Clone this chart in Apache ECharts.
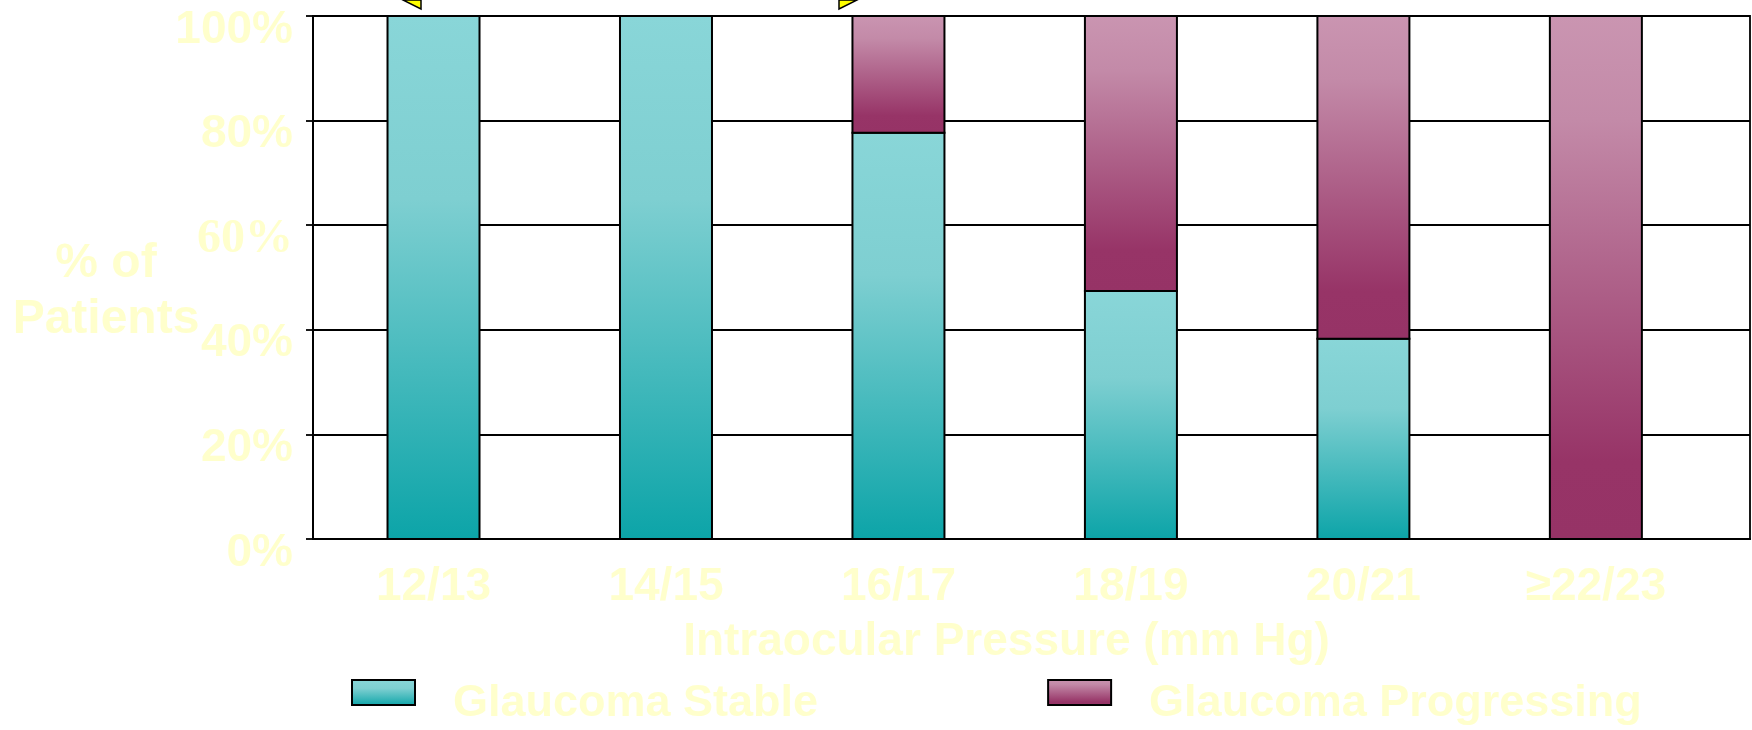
<!DOCTYPE html>
<html>
<head>
<meta charset="utf-8">
<title>Glaucoma progression by intraocular pressure</title>
<script src="https://cdn.jsdelivr.net/npm/echarts@6/dist/echarts.min.js"></script>
<style>
  html, body { margin: 0; padding: 0; background: #ffffff; }
  #chart { width: 1752px; height: 730px; }
</style>
</head>
<body>
<div id="chart"></div>
<script>
// Intraocular pressure groups (mm Hg) and their positions along the x axis
const categories = ['12/13', '14/15', '16/17', '18/19', '20/21', '\u226522/23'];
const positions = [1, 2, 3, 4, 5, 6];

// Share of patients (%) in each pressure group
const stable = [100, 100, 77.7, 47.4, 38.3, 0];
const progressing = [0, 0, 22.3, 52.6, 61.7, 100];

// Y axis tick labels
const yTickValues = [0, 20, 40, 60, 80, 100];
const yTickLabels = ['0%', '20%', '40%', '60%', '80%', '100%'];

const seriesNames = ['Glaucoma Stable', 'Glaucoma Progressing'];

const FONT = '"Liberation Sans", Arial, Helvetica, sans-serif';
const TEXT_COLOR = '#ffffcc';
const BAR_WIDTH = 92;

const tealStops = [
  { offset: 0, color: '#89d6d8' },
  { offset: 0.35, color: '#7ecfd1' },
  { offset: 1, color: '#0ca4a8' }
];
const plumStops = [
  { offset: 0, color: '#ca95b1' },
  { offset: 0.2, color: '#c38aa8' },
  { offset: 0.85, color: '#973467' },
  { offset: 1, color: '#963366' }
];
const gradient = (stops) => new echarts.graphic.LinearGradient(0, 0, 0, 1, stops);

// Each segment is [x position, lower edge, upper edge], stacked stable -> progressing
const stableSegments = stable.map((v, i) => [positions[i], 0, v]);
const progressingSegments = progressing.map((v, i) => [positions[i], stable[i], stable[i] + v]);

function segmentRenderer(stops) {
  return function (params, api) {
    const x = api.value(0);
    const lo = api.value(1);
    const hi = api.value(2);
    if (hi <= lo) return null;
    const pLo = api.coord([x, lo]);
    const pHi = api.coord([x, hi]);
    return {
      type: 'rect',
      shape: {
        x: pLo[0] - BAR_WIDTH / 2,
        y: pHi[1],
        width: BAR_WIDTH,
        height: pLo[1] - pHi[1]
      },
      style: {
        fill: gradient(stops),
        stroke: '#000000',
        lineWidth: 2
      }
    };
  };
}

const chart = echarts.init(document.getElementById('chart'), null, { renderer: 'canvas' });

chart.setOption({
  backgroundColor: '#ffffff',
  animation: false,
  textStyle: { fontFamily: FONT },
  grid: {
    left: 313, right: 2, top: 16, bottom: 191,
    show: true, borderColor: '#000000', borderWidth: 1.8,
    containLabel: false,
    outerBoundsMode: 'none'
  },
  xAxis: {
    type: 'value',
    min: 0.4816,
    max: 6.663,
    splitLine: { show: false },
    axisTick: { show: false },
    axisLine: { show: true, onZero: false, lineStyle: { color: '#000000', width: 2 } },
    axisLabel: {
      customValues: positions,
      formatter: (v) => categories[positions.indexOf(v)] || '',
      color: TEXT_COLOR, fontSize: 46, fontWeight: 'bold', fontFamily: FONT,
      margin: 25
    },
    name: 'Intraocular Pressure (mm Hg)',
    nameLocation: 'middle',
    nameGap: 80,
    nameTextStyle: {
      color: TEXT_COLOR, fontSize: 46, fontWeight: 'bold', fontFamily: FONT,
      padding: [0, 50, 0, 0]
    }
  },
  yAxis: {
    type: 'value',
    min: 0, max: 100, interval: 20,
    axisLine: { show: true, lineStyle: { color: '#000000', width: 2 } },
    axisTick: { show: true, length: 7, lineStyle: { color: '#000000', width: 1.8 } },
    splitLine: { show: true, lineStyle: { color: '#000000', width: 1.8 } },
    axisLabel: {
      formatter: (v) => {
        const label = yTickLabels[yTickValues.indexOf(v)];
        return v === 60 ? '{serif|' + label + '}' : label;
      },
      color: TEXT_COLOR, fontSize: 46, fontWeight: 'bold', fontFamily: FONT,
      margin: 20,
      padding: [28, 0, 0, 0],
      rich: {
        serif: {
          fontFamily: '"Liberation Serif", "Times New Roman", serif',
          fontSize: 48, fontWeight: 'bold', color: TEXT_COLOR
        }
      }
    }
  },
  legend: {
    data: seriesNames,
    icon: 'rect',
    left: 351,
    top: 679,
    padding: 0,
    itemWidth: 63,
    itemHeight: 25,
    itemGap: 229,
    itemStyle: { borderColor: '#000000', borderWidth: 2 },
    formatter: (name) => '{t|' + name + '}',
    textStyle: {
      color: TEXT_COLOR, fontSize: 45, fontWeight: 'bold', fontFamily: FONT,
      rich: {
        t: {
          color: TEXT_COLOR, fontSize: 45, fontWeight: 'bold', fontFamily: FONT,
          padding: [22, 0, 0, 33]
        }
      }
    }
  },
  series: [
    {
      name: seriesNames[0],
      type: 'custom',
      renderItem: segmentRenderer(tealStops),
      encode: { x: 0, y: [1, 2] },
      data: stableSegments,
      itemStyle: { color: gradient(tealStops), borderColor: '#000000', borderWidth: 2 }
    },
    {
      name: seriesNames[1],
      type: 'custom',
      renderItem: segmentRenderer(plumStops),
      encode: { x: 0, y: [1, 2] },
      data: progressingSegments,
      itemStyle: { color: gradient(plumStops), borderColor: '#000000', borderWidth: 2 }
    }
  ],
  graphic: [
    // y axis title
    {
      type: 'text',
      x: 106,
      y: 236,
      style: {
        text: '% of\nPatients',
        fill: TEXT_COLOR,
        font: 'bold 48px ' + FONT,
        lineHeight: 56,
        align: 'center',
        textAlign: 'center',
        verticalAlign: 'top',
        textVerticalAlign: 'top'
      }
    },
    // arrowheads entering from above the plot
    {
      type: 'polygon',
      shape: { points: [[403, 0], [421, 0], [421, 9]] },
      style: { fill: '#ffff00', stroke: '#000000', lineWidth: 1.5 }
    },
    {
      type: 'polygon',
      shape: { points: [[839, 0], [857, 0], [839, 9]] },
      style: { fill: '#ffff00', stroke: '#000000', lineWidth: 1.5 }
    }
  ]
});
</script>
</body>
</html>
